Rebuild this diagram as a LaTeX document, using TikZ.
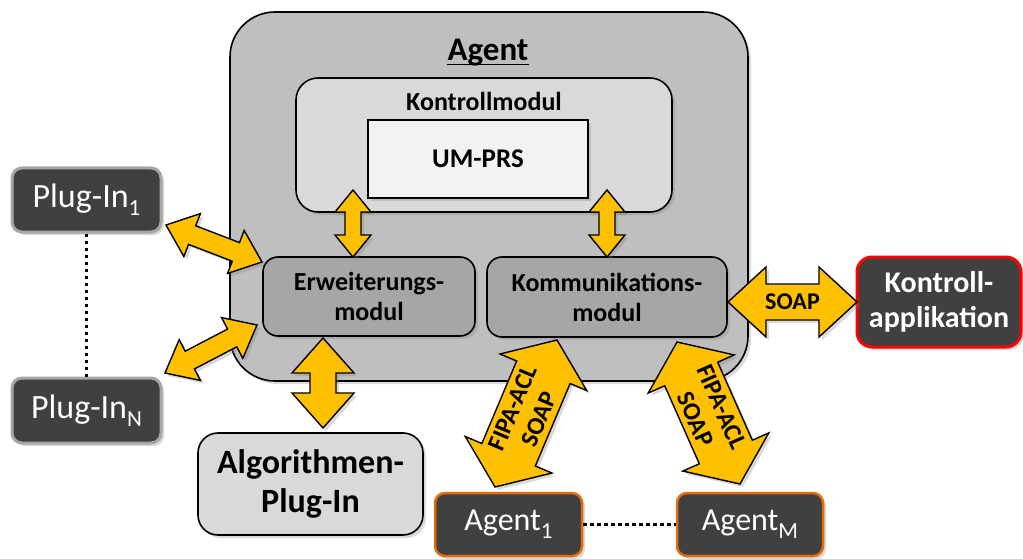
\documentclass[tikz,border=0pt]{standalone}
\usepackage{fontspec}
\setmainfont{Carlito}
\usetikzlibrary{calc,shadows}

\definecolor{agentgray}{HTML}{BFBFBF}
\definecolor{ctrlgray}{HTML}{D9D9D9}
\definecolor{modgray}{HTML}{A6A6A6}
\definecolor{umgray}{HTML}{F2F2F2}
\definecolor{darkbox}{HTML}{404040}
\definecolor{plugborder}{HTML}{A6A6A6}
\definecolor{agentorange}{HTML}{E46C0A}
\definecolor{ctrlred}{HTML}{FF0000}
\definecolor{arrowyellow}{HTML}{FFC000}

\newcommand\fsz[1]{\fontsize{#1pt}{#1pt}\selectfont}
% lowered index, as in Plug-In_1
\newcommand\idx[1]{\raisebox{-8pt}{\fsz{23}#1}}

% double-headed block arrow between two named points
% #1 from, #2 to, #3 shaft half width, #4 head half width, #5 head length
\newcommand\blockarrow[5]{%
  \path[blockarrow] (#1)
    -- ($ ($(#1)!#5!(#2)$)!#4!90:(#2) $)
    -- ($ ($(#1)!#5!(#2)$)!#3!90:(#2) $)
    -- ($ ($(#2)!#5!(#1)$)!#3!-90:(#1) $)
    -- ($ ($(#2)!#5!(#1)$)!#4!-90:(#1) $)
    -- (#2)
    -- ($ ($(#2)!#5!(#1)$)!#4!90:(#1) $)
    -- ($ ($(#2)!#5!(#1)$)!#3!90:(#1) $)
    -- ($ ($(#1)!#5!(#2)$)!#3!-90:(#2) $)
    -- ($ ($(#1)!#5!(#2)$)!#4!-90:(#2) $)
    -- cycle;}

\tikzset{
  softshadow/.style={drop shadow={opacity=0.3, shadow xshift=3pt, shadow yshift=-3pt}},
  box/.style={draw=black, line width=1.6pt, inner sep=0pt, softshadow},
  darknode/.style={box, fill=darkbox, rounded corners=10pt, text=white},
  blockarrow/.style={draw=black, line width=1.4pt, fill=arrowyellow, line join=miter, softshadow},
  dotline/.style={line width=3.5pt, dash pattern=on 3.5pt off 3.5pt},
  lbl/.style={font=\bfseries\fsz{26}, align=center, inner sep=0pt},
  arrowlbl/.style={font=\bfseries\fsz{25}, align=center, inner sep=0pt},
}

\begin{document}
\begin{tikzpicture}[x=1pt, y=-1pt]
\useasboundingbox (0,0) rectangle (1023,559);

% agent with its modules
\node[box, fill=agentgray, rounded corners=45pt, minimum width=518pt, minimum height=369pt] (agent) at (489,196.5) {};
\node[lbl, font=\bfseries\fsz{33}] (title) at (488,53) {Agent};
\draw[line width=1.6pt] ([yshift=-3.5pt]title.base west) -- ([yshift=-3.5pt]title.base east);

\node[box, fill=ctrlgray, rounded corners=22pt, minimum width=376pt, minimum height=134pt] (ctrl) at (484,145) {};
\node[lbl] (ctrllbl) at (484,101) {Kontrollmodul};
\node[box, fill=umgray, minimum width=220pt, minimum height=78pt, font=\bfseries\fsz{27}] (umprs) at (478,159) {UM-PRS};

\node[box, fill=modgray, rounded corners=15pt, minimum width=212pt, minimum height=79pt, lbl] (erw) at (369,296.5) {Erweiterungs-\\[4pt]modul};
\node[box, fill=modgray, rounded corners=15pt, minimum width=240pt, minimum height=80pt, lbl] (komm) at (607,297) {Kommunikations-\\[4pt]modul};

% surrounding components
\node[darknode, draw=plugborder, line width=3pt, minimum width=149pt, minimum height=64pt, font=\fsz{34}] (plug1) at (86.5,200) {Plug-In\idx{1}};
\node[darknode, draw=plugborder, line width=3pt, minimum width=149pt, minimum height=65pt, font=\fsz{34}] (plugN) at (86.5,410.5) {Plug-In\idx{N}};
\node[box, fill=ctrlgray, rounded corners=20pt, minimum width=225pt, minimum height=102pt, font=\bfseries\fsz{34}, align=center] (algo) at (310.5,484) {Algorithmen-\\[5pt]Plug-In};
\node[darknode, draw=agentorange, line width=2.5pt, minimum width=147pt, minimum height=63pt, font=\fsz{32}] (agent1) at (508.5,524.5) {Agent\idx{1}};
\node[darknode, draw=agentorange, line width=2.5pt, minimum width=146pt, minimum height=63pt, font=\fsz{32}] (agentM) at (750,524.5) {Agent\idx{M}};
\node[darknode, draw=ctrlred, line width=3pt, rounded corners=15pt, minimum width=164pt, minimum height=90pt, font=\bfseries\fsz{30}, align=center] (capp) at (939,302) {Kontroll-\\[5pt]applikation};

% dotted ellipsis lines
\draw[dotline] (plug1.south) -- (plugN.north);
\draw[dotline] (agent1.east) -- (agentM.west);

% arrow end points
\coordinate (e1) at (353,190);  \coordinate (e2) at (353,257);
\coordinate (k1) at (607,190);  \coordinate (k2) at (607,257);
\coordinate (p1) at (166,225);  \coordinate (p2) at (262,262);
\coordinate (n1) at (165,373);  \coordinate (n2) at (257,325);
\coordinate (a1) at (323,338);  \coordinate (a2) at (323,428);
\coordinate (s1) at (728,302);  \coordinate (s2) at (857,302);
\coordinate (f1) at (557,340);  \coordinate (f2) at (495,487);
\coordinate (g1) at (677,342);  \coordinate (g2) at (740,484);

\blockarrow{e1}{e2}{8pt}{18pt}{22pt}
\blockarrow{k1}{k2}{8pt}{18pt}{22pt}
\blockarrow{p1}{p2}{10pt}{23pt}{28pt}
\blockarrow{n1}{n2}{10pt}{23pt}{28pt}
\blockarrow{a1}{a2}{13pt}{31pt}{35pt}
\blockarrow{s1}{s2}{18pt}{35pt}{38pt}
\blockarrow{f1}{f2}{29pt}{47pt}{35pt}
\blockarrow{g1}{g2}{29pt}{47pt}{35pt}

% arrow labels
\node[arrowlbl, font=\bfseries\fsz{24}] (soap) at ($(s1)!0.5!(s2)$) {SOAP};
\node[arrowlbl, rotate=67] (fipa1) at ($(f1)!0.5!(f2)$) {FIPA-ACL\\[4pt]SOAP};
\node[arrowlbl, rotate=-66] (fipa2) at ($(g1)!0.5!(g2)$) {FIPA-ACL\\[4pt]SOAP};
\end{tikzpicture}
\end{document}
